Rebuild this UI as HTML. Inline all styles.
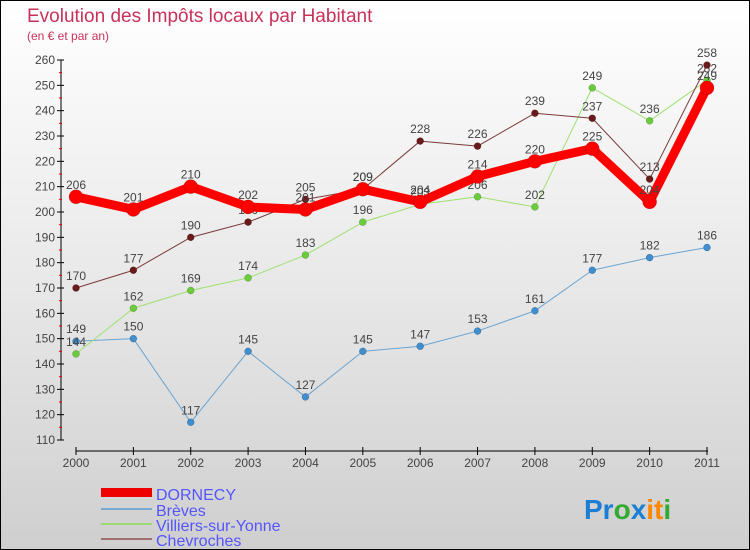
<!DOCTYPE html>
<html><head><meta charset="utf-8"><style>
body{margin:0}
#c{width:748px;height:548px;border:1px solid #000;background:linear-gradient(#fff,#e9e9e9 50%,#cfcfcf);position:relative;font-family:"Liberation Sans",sans-serif;overflow:hidden}
svg text{font-family:"Liberation Sans",sans-serif}
</style></head><body>
<div id="c">
<svg id="s" width="748" height="548">
<text x="26" y="21" font-size="19" fill="#c8325a">Evolution des Impôts locaux par Habitant</text>
<text x="26" y="39" font-size="12" fill="#c8325a">(en € et par an)</text>
<g id="g"></g>
<g>
<rect x="100" y="487" width="51" height="9" fill="#e00"/>
<text x="155" y="499" font-size="16" fill="#55f">DORNECY</text>
<rect x="100" y="507" width="51" height="2" fill="#7aaad0"/>
<text x="155" y="515" font-size="16" fill="#55f">Brèves</text>
<rect x="100" y="522" width="51" height="2" fill="#9ed872"/>
<text x="155" y="530" font-size="16" fill="#55f">Villiers-sur-Yonne</text>
<rect x="100" y="537" width="51" height="2" fill="#a07070"/>
<text x="155" y="545" font-size="16" fill="#55f">Chevroches</text>
</g>
<g font-size="28" font-weight="bold">
<text x="583" y="518"><tspan fill="#1a7fd4">Pr</tspan><tspan fill="#3a3">o</tspan><tspan fill="#1a7fd4">x</tspan><tspan fill="#f80">it</tspan><tspan fill="#3a3">i</tspan></text>
</g>
</svg>
</div>
<script>
const years=[2000,2001,2002,2003,2004,2005,2006,2007,2008,2009,2010,2011];
const yTicks=[110,120,130,140,150,160,170,180,190,200,210,220,230,240,250,260];
const dornecy=[206,201,210,202,201,209,204,214,220,225,204,249];
const breves=[149,150,117,145,127,145,147,153,161,177,182,186];
const villiers=[144,162,169,174,183,196,203,206,202,249,236,252];
const chevroches=[170,177,190,196,205,209,228,226,239,237,213,258];
const NS="http://www.w3.org/2000/svg";
const g=document.getElementById('g');
function X(i){return 75+i*(706-75)/(years.length-1);}
function Y(v){return 59+(260-v)*(380/150);}
function mk(t,a,p){const e=document.createElementNS(NS,t);for(const k in a)e.setAttribute(k,a[k]);(p||g).appendChild(e);return e;}
let ax=mk('line',{x1:60,y1:Y(260),x2:60,y2:Y(110),stroke:'#000'});


yTicks.forEach((v,i)=>{
 mk('line',{x1:56,y1:Y(v),x2:63,y2:Y(v),stroke:'#000'});
 if(i<yTicks.length-1) mk('line',{x1:58,y1:Y(v+5),x2:61,y2:Y(v+5),stroke:'#e00'});
 const t=mk('text',{x:54,y:Y(v)+4,'text-anchor':'end','font-size':12,fill:'#444'});t.textContent=v;
 
 
});
let xa=mk('line',{x1:75,y1:450,x2:707,y2:450,stroke:'#000'});


years.forEach((y,i)=>{
 mk('line',{x1:X(i),y1:446,x2:X(i),y2:454,stroke:'#000'});
 const t=mk('text',{x:X(i),y:466,'text-anchor':'middle','font-size':12,fill:'#444'});t.textContent=y;
 
 
});
function series(d,name,col,mcol,w,r){
 const sg=mk('g',{});
 
 
 const p=mk('polyline',{points:d.map((v,i)=>X(i)+','+Y(v)).join(' '),fill:'none',stroke:col,'stroke-width':w,'stroke-linejoin':'round'},sg);
 
 
 d.forEach((v,i)=>{
  const c=mk('circle',{cx:X(i),cy:Y(v),r:r,fill:mcol,stroke:'rgba(0,0,0,0.3)','stroke-width':0.5},sg);
  
  
  const t=mk('text',{x:X(i),y:Y(v)-8,'text-anchor':'middle','font-size':12,fill:'#444'},sg);t.textContent=v;
  
  
 });
}
series(breves,'breves','#6aa3d0','#3f8ecf',1,3.5);
series(villiers,'villiers','#9ee070','#6acc3a',1,3.5);
series(chevroches,'chevroches','#7a3a3a','#6a1a1a',1,3.5);
series(dornecy,'dornecy','#f00','#f00',9,7);
</script>
</body></html>
